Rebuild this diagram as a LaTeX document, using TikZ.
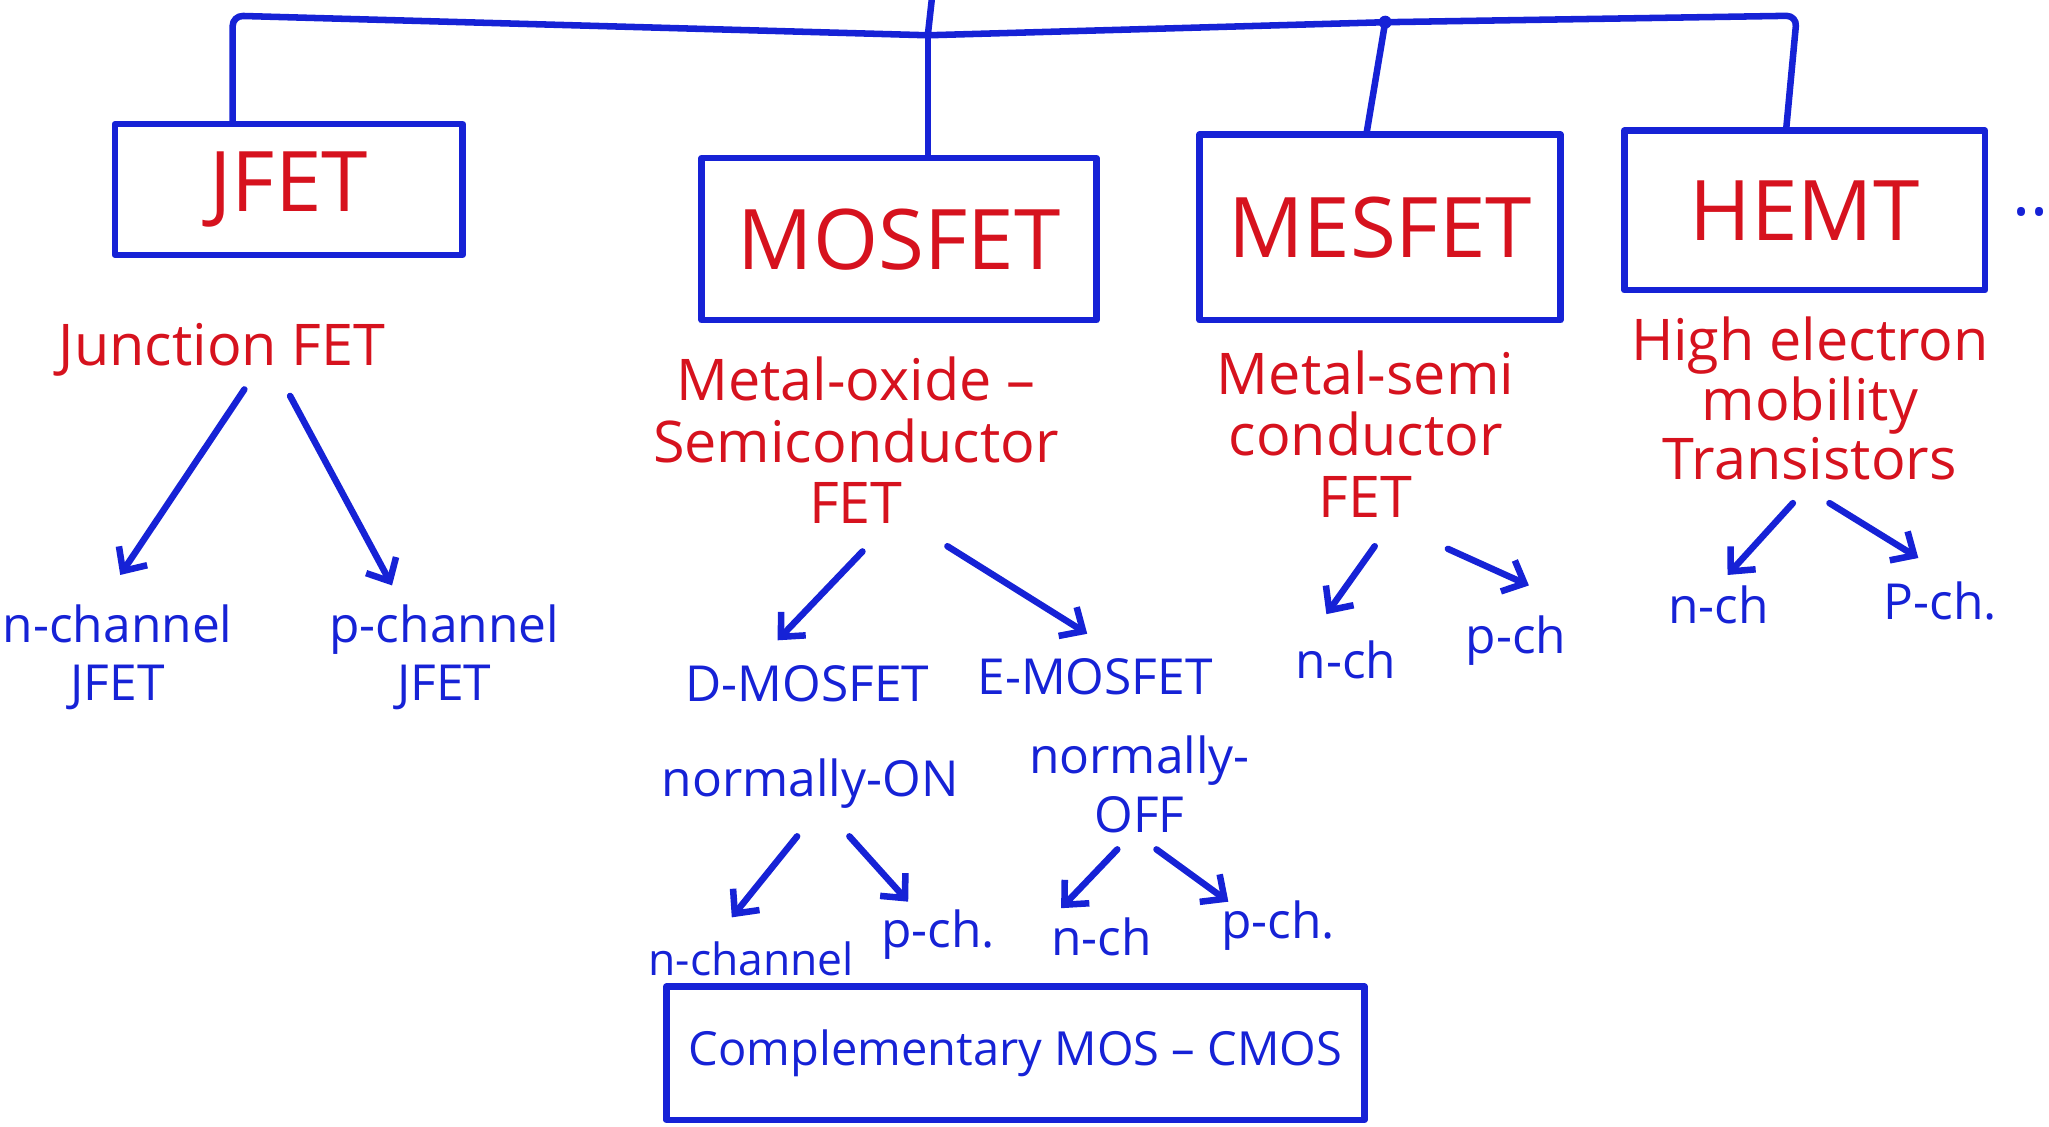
\documentclass[tikz,border=0pt]{standalone}
\usepackage{fontspec}
\setmainfont{Open Sans}
\usetikzlibrary{arrows.meta}
\definecolor{ink}{RGB}{22,34,214}
\definecolor{redink}{RGB}{214,18,30}
\begin{document}
\begin{tikzpicture}[x=0.5pt,y=-0.5pt,
  stroke/.style={draw=ink,line width=2.5pt,line cap=round,line join=round},
  arr/.style={stroke,-{Straight Barb[length=7pt,width=13pt]}},
  fambox/.style={stroke,inner sep=0pt,text=redink,font=\fontsize{32}{36}\selectfont},
  redlbl/.style={text=redink,align=center,inner sep=0pt,font=\fontsize{22}{23.5}\selectfont},
  bluelbl/.style={text=ink,align=center,inner sep=0pt,font=\fontsize{19}{22.5}\selectfont}]
\useasboundingbox (0,0) rectangle (1568,862);

% family boxes
\node[fambox,minimum width=133pt,minimum height=50pt] (jfet)   at (221,145)  {JFET};
\node[fambox,minimum width=151pt,minimum height=62pt] (mosfet) at (688,183)  {MOSFET};
\node[fambox,minimum width=138pt,minimum height=71pt] (mesfet) at (1056,174) {MESFET};
\node[fambox,minimum width=138pt,minimum height=61pt] (hemt)   at (1381,161) {HEMT};
\node[text=ink,inner sep=0pt,font=\fontsize{26}{26}\selectfont] (more) at (1554,162) {..};

% top bus
\coordinate (top) at (713,0);
\coordinate (bl) at (178,12);
\coordinate (bm) at (710,27);
\coordinate (bd) at (1060,17);
\coordinate (br) at (1375,12);
\draw[stroke] (top) -- (bm);
\draw[stroke,rounded corners=4pt] (bl |- jfet.north) -- (bl) -- (bm) -- (bd) -- (br) -- ([xshift=-4pt]br |- hemt.north);
\draw[stroke] (bm) -- (bm |- mosfet.north);
\draw[stroke] (bd) -- ([xshift=-5pt]mesfet.north);
\fill[ink] (bd) circle (5);

% full names
\node[redlbl] (jl) at (170,268) {Junction FET};
\node[redlbl] (ml) at (655,337) {Metal-oxide –\\Semiconductor\\FET};
\node[redlbl] (sl) at (1045,332) {Metal-semi\\conductor\\FET};
\node[redlbl,font=\fontsize{22}{20}\selectfont] (hl) at (1385,305) {High electron\\mobility\\Transistors};

% JFET branch
\node[bluelbl] (nj) at (90,503)  {n-channel\\JFET};
\node[bluelbl] (pj) at (340,503) {p-channel\\JFET};
\draw[arr] ([shift={(17,30)}]jl.center) -- ([shift={(2,-63)}]nj.center);
\draw[arr] ([shift={(52,35)}]jl.center) -- ([shift={(-40,-55)}]pj.center);

% MOSFET branch
\node[bluelbl] (dm) at (618,523) {D-MOSFET};
\node[bluelbl] (em) at (838,518) {E-MOSFET};
\draw[arr] ([shift={(5,85)}]ml.center) -- ([shift={(-23,-33)}]dm.center);
\draw[arr] ([shift={(70,81)}]ml.center) -- ([shift={(-6,-33)}]em.center);
\node[bluelbl] (non)  at (620,600) {normally-ON};
\node[bluelbl] (noff) at (872,600) {normally-\\OFF};
\node[bluelbl,font=\fontsize{17}{20}\selectfont] (dn) at (575,734) {n-channel};
\node[bluelbl] (dp) at (718,715) {p-ch.};
\node[bluelbl] (en) at (843,717) {n-ch};
\node[bluelbl] (ep) at (978,708) {p-ch.};
\draw[arr] ([shift={(-10,40)}]non.center) -- ([shift={(-15,-32)}]dn.center);
\draw[arr] ([shift={(30,40)}]non.center) -- ([shift={(-23,-25)}]dp.center);
\draw[arr] ([shift={(-17,50)}]noff.center) -- ([shift={(-31,-22)}]en.center);
\draw[arr] ([shift={(13,50)}]noff.center) -- ([shift={(-38,-18)}]ep.center);
\node[stroke,inner sep=0pt,minimum width=267pt,minimum height=51pt,text=ink,
      font=\fontsize{18}{18}\selectfont] (cmos) at (777,806) {Complementary MOS – CMOS};

% MESFET branch
\node[bluelbl] (mn) at (1030,505) {n-ch};
\node[bluelbl] (mp) at (1160,490) {p-ch};
\draw[arr] ([shift={(7,86)}]sl.center) -- ([shift={(-15,-35)}]mn.center);
\draw[arr] ([shift={(63,88)}]sl.center) -- ([shift={(10,-42)}]mp.center);

% HEMT branch
\node[bluelbl] (hn) at (1315,463) {n-ch};
\node[bluelbl] (hp) at (1485,460) {P-ch.};
\draw[arr] ([shift={(-13,80)}]hl.center) -- ([shift={(7,-23)}]hn.center);
\draw[arr] ([shift={(15,80)}]hl.center) -- ([shift={(-17,-33)}]hp.center);
\end{tikzpicture}
\end{document}
